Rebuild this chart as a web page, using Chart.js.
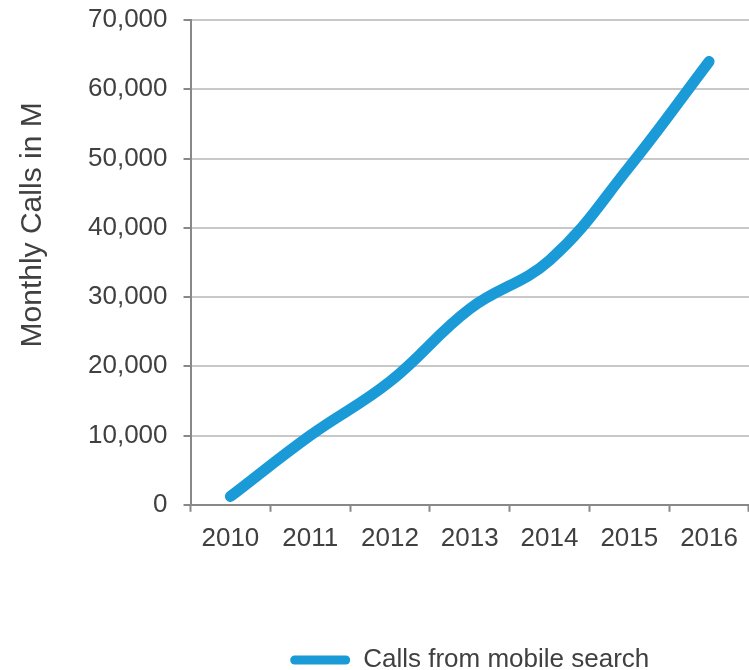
<!DOCTYPE html>
<html>
<head>
<meta charset="utf-8">
<script src="https://cdn.jsdelivr.net/npm/chart.js@4"></script>
<style>
  html, body { margin: 0; padding: 0; background: #fff; }
  #wrap { width: 749px; height: 670px; }
</style>
</head>
<body>
<div id="wrap"><canvas id="myChart"></canvas></div>
<script>
var years = ["2010", "2011", "2012", "2013", "2014", "2015", "2016"];
var calls = [1200, 10000, 17800, 28300, 35300, 48800, 64000];
var seriesName = "Calls from mobile search";
var yTitle = "Monthly Calls in M";
var lineColor = "#1a9ad6";

Chart.defaults.font.family = "'Liberation Sans', Arial, sans-serif";
Chart.defaults.font.size = 26;
Chart.defaults.color = "#404040";

new Chart("myChart", {
    type: "line",
    data: {
        labels: years,
        datasets: [{
            label: seriesName,
            data: calls,
            borderColor: lineColor,
            backgroundColor: lineColor,
            borderWidth: 11,
            borderCapStyle: "round",
            borderJoinStyle: "round",
            tension: 0.4,
            pointRadius: 0,
            fill: false
        }]
    },
    options: {
        responsive: true,
        maintainAspectRatio: false,
        animation: false,
        layout: { padding: { top: 0, right: 0, left: 15, bottom: -13 } },
        scales: {
            x: {
                offset: true,
                grid: {
                    offset: true,
                    drawOnChartArea: false,
                    tickLength: 7,
                    tickColor: "#888",
                    tickWidth: 2
                },
                border: { color: "#888", width: 2 },
                ticks: { padding: 11 },
                afterFit: function (axis) { axis.height += 82; }
            },
            y: {
                min: 0,
                max: 70000,
                ticks: {
                    stepSize: 10000,
                    padding: 16,
                    callback: function (v) { return v.toLocaleString("en-US"); }
                },
                grid: {
                    color: "#c8c8c8",
                    lineWidth: 2,
                    tickLength: 7,
                    tickColor: "#888"
                },
                border: { color: "#888", width: 2 },
                title: {
                    display: true,
                    // leading spaces nudge the title up like the original
                    text: "         " + yTitle,
                    font: { size: 30 },
                    padding: { top: 0, bottom: 21 }
                },
                afterFit: function (axis) { axis.paddingTop = 20; }
            }
        },
        plugins: {
            legend: {
                position: "bottom",
                fullSize: false,
                labels: {
                    boxWidth: 60,
                    boxHeight: 9,
                    padding: 0,
                    generateLabels: function (chart) {
                        return [{
                            text: seriesName,
                            fillStyle: lineColor,
                            strokeStyle: lineColor,
                            lineWidth: 0,
                            borderRadius: 4.5,
                            fontColor: "#404040",
                            datasetIndex: 0
                        }];
                    }
                }
            },
            tooltip: { enabled: false }
        }
    }
});
</script>
</body>
</html>
